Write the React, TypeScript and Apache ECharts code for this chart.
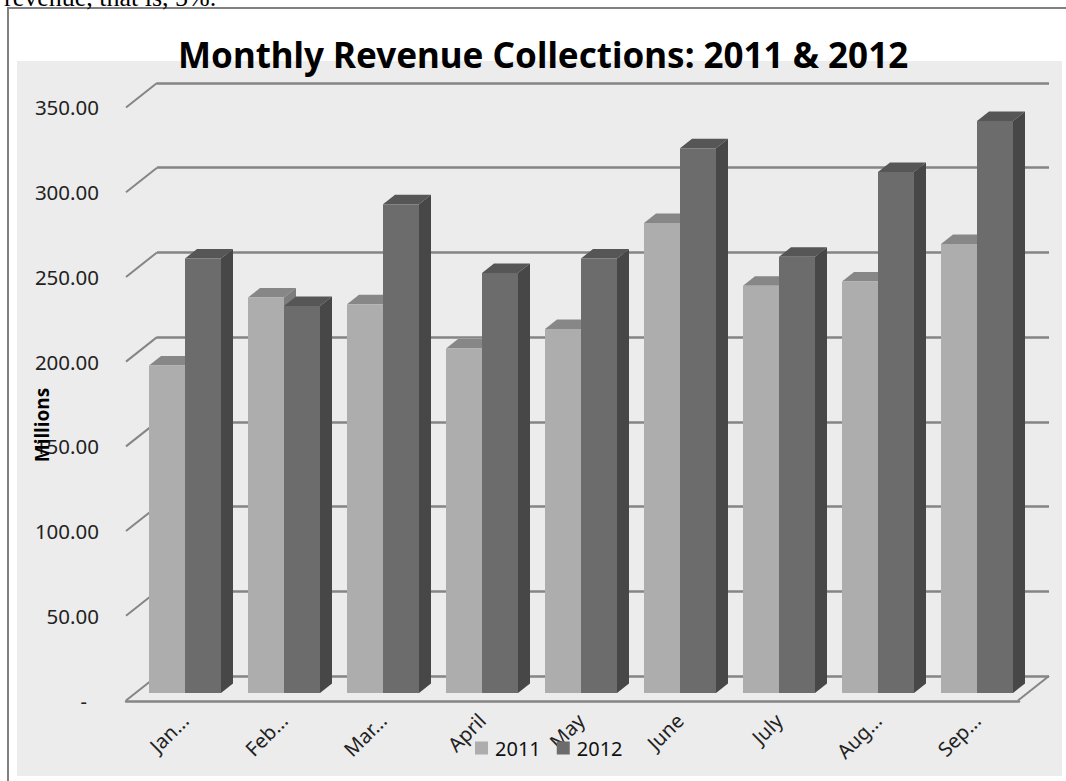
import React, { useEffect, useRef } from "react";
import * as echarts from "echarts";

const categories = ["Jan...", "Feb...", "Mar...", "April", "May", "June", "July", "Aug...", "Sep..."];
const values2011 = [193, 233, 229, 203, 214.5, 277, 240, 242.5, 264.5];
const values2012 = [256, 228, 288, 247.5, 256, 321, 257, 307, 337];
const wallTicks = [0, 50, 100, 150, 200, 250, 300, 350];

const TITLE = "Monthly Revenue Collections: 2011 & 2012";
const AXIS_NAME = "Millions";
const LEAD_TEXT = "revenue, that is, 5%.";

const FONT = "'Noto Sans', sans-serif";
const LINE = "#858585";
const DEPTH_X = 12;
const DEPTH_Y = 9.5;

const palette2011 = { front: "#adadad", top: "#878787", side: "#7d7d7d" };
const palette2012 = { front: "#6c6c6c", top: "#565656", side: "#474747" };

function barRenderer(offsetShare: number, colors: { front: string; top: string; side: string }) {
  return (params: any, api: any) => {
    const band = api.size([1, 0])[0];
    const w = band * 0.3636;
    const [cx, y] = api.coord([api.value(0), api.value(1)]);
    const [, y0] = api.coord([api.value(0), 0]);
    const x = cx + offsetShare * w;
    return {
      type: "group",
      children: [
        {
          type: "polygon",
          shape: { points: [[x, y], [x + DEPTH_X, y - DEPTH_Y], [x + w + DEPTH_X, y - DEPTH_Y], [x + w, y]] },
          style: { fill: colors.top },
        },
        {
          type: "polygon",
          shape: { points: [[x + w, y], [x + w + DEPTH_X, y - DEPTH_Y], [x + w + DEPTH_X, y0 - DEPTH_Y], [x + w, y0]] },
          style: { fill: colors.side },
        },
        { type: "rect", shape: { x, y, width: w, height: y0 - y }, style: { fill: colors.front } },
      ],
    };
  };
}

function stubRenderer(params: any, api: any) {
  const [x, y] = api.coord([api.value(0), api.value(1)]);
  return {
    type: "line",
    shape: { x1: x, y1: y, x2: x - 31, y2: y + 24.5 },
    style: { stroke: LINE, lineWidth: 2, fill: "none" },
  };
}

export default function App() {
  const ref = useRef<HTMLDivElement>(null);
  useEffect(() => {
    const chart = echarts.init(ref.current!, undefined, { renderer: "svg" });
    chart.setOption({
      animation: false,
      backgroundColor: "#ffffff",
      textStyle: { fontFamily: FONT },
      title: {
        text: TITLE,
        left: 173,
        top: 32,
        textStyle: { fontFamily: FONT, fontWeight: "bold", fontSize: 35, color: "#000000" },
        z: 20,
      },
      legend: {
        data: ["2011", "2012"],
        left: 475,
        top: 738,
        padding: 0,
        icon: "rect",
        itemWidth: 13,
        itemHeight: 13,
        itemGap: 16,
        textStyle: { fontFamily: FONT, fontSize: 20, color: "#111111", padding: [0, 0, 0, 2] },
      },
      grid: [
        { left: 135.5, width: 891, top: 99, height: 594 },
        { left: 157, width: 892, top: 83, height: 593 },
        { left: 126, width: 893, top: 107, height: 594 },
      ],
      xAxis: [
        {
          type: "category",
          gridIndex: 0,
          data: categories,
          axisLine: { show: false },
          axisTick: { show: false },
          axisLabel: { rotate: 45, margin: 24, fontSize: 20, color: "#222222", fontFamily: FONT, interval: 0 },
        },
        { type: "value", gridIndex: 1, min: 0, max: 1, show: false },
        {
          type: "value",
          gridIndex: 2,
          min: 0,
          max: 1,
          axisLine: { show: true, lineStyle: { color: LINE, width: 2.5 } },
          axisTick: { show: false },
          axisLabel: { show: false },
          splitLine: { show: false },
        },
      ],
      yAxis: [
        { type: "value", gridIndex: 0, min: 0, max: 350, interval: 50, show: false },
        {
          type: "value",
          gridIndex: 1,
          min: 0,
          max: 350,
          interval: 50,
          axisLine: { show: false },
          axisTick: { show: false },
          axisLabel: { show: false },
          splitLine: { show: true, lineStyle: { color: LINE, width: 2.5 } },
        },
        {
          type: "value",
          gridIndex: 2,
          min: 0,
          max: 350,
          interval: 50,
          axisLine: { show: false },
          axisTick: { show: false },
          splitLine: { show: false },
          axisLabel: {
            margin: 27,
            fontSize: 20.5,
            color: "#222222",
            fontFamily: FONT,
            formatter: (v: number) => (v === 0 ? "{dash|-}" : v.toFixed(2)),
            rich: { dash: { fontSize: 20, fontFamily: FONT, color: "#222222", padding: [0, 12, 0, 0] } },
          },
        },
      ],
      graphic: [
        { type: "rect", z: -1, shape: { x: 17, y: 61, width: 1045, height: 715 }, style: { fill: "#ececec" } },
        {
          type: "polyline",
          z: -1,
          shape: { points: [[8, 781], [8, 8], [1066, 8]] },
          style: { stroke: "#808080", lineWidth: 2, fill: "none" },
        },
        {
          type: "text",
          x: 4,
          y: 10,
          style: {
            text: LEAD_TEXT,
            fill: "#000000",
            font: "26px 'Liberation Serif', serif",
            verticalAlign: "bottom",
          },
        },
        {
          type: "text",
          x: 42,
          y: 425,
          rotation: Math.PI / 2,
          z: 20,
          style: {
            text: AXIS_NAME,
            fill: "#000000",
            font: `bold 19px ${FONT}`,
            align: "center",
            verticalAlign: "middle",
          },
        },
      ],
      series: [
        {
          type: "custom",
          name: "walls",
          xAxisIndex: 1,
          yAxisIndex: 1,
          z: 1,
          silent: true,
          clip: false,
          data: [...wallTicks.map((v) => [0, v]), [1, 0]],
          encode: { x: 0, y: 1 },
          renderItem: stubRenderer,
        },
        {
          type: "custom",
          name: "2011",
          xAxisIndex: 0,
          yAxisIndex: 0,
          z: 3,
          clip: false,
          itemStyle: { color: palette2011.front },
          data: values2011.map((v, i) => [i, v]),
          encode: { x: 0, y: 1 },
          renderItem: barRenderer(-1, palette2011),
        },
        {
          type: "custom",
          name: "2012",
          xAxisIndex: 0,
          yAxisIndex: 0,
          z: 4,
          clip: false,
          itemStyle: { color: palette2012.front },
          data: values2012.map((v, i) => [i, v]),
          encode: { x: 0, y: 1 },
          renderItem: barRenderer(0, palette2012),
        },
      ],
    });
    return () => chart.dispose();
  }, []);
  return <div ref={ref} style={{ position: "fixed", left: 0, top: 0, width: 1066, height: 781 }} />;
}
